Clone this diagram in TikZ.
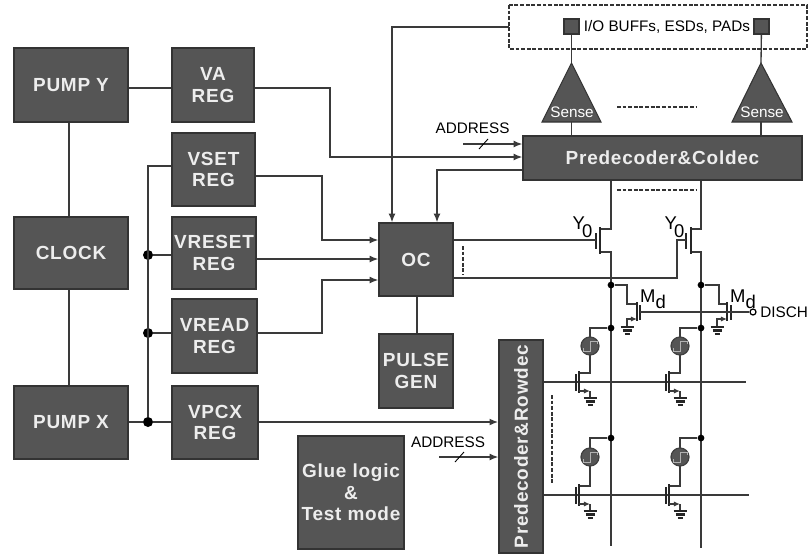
\documentclass[tikz,border=0pt]{standalone}
\usepackage{fontspec}
\usepackage{xcolor}
\usetikzlibrary{arrows.meta}
\setmainfont{Liberation Sans}
\newfontfamily\boxfont[LetterSpace=4]{Liberation Sans}
\definecolor{boxgray}{HTML}{555555}
\definecolor{wiregray}{HTML}{3A3A3A}
\tikzset{
  wire/.style={draw=wiregray, line width=0.75pt},
  arrowed/.style={wire, -{Latex[length=5pt,width=4pt]}},
  thinbar/.style={draw=black!85, line width=1.3pt},
  dashrow/.style={draw=black!80, line width=0.6pt, dash pattern=on 2.2pt off 1pt},
  jdot/.style={circle, fill=black, draw=none, minimum size=0.2cm, inner sep=0pt},
  smalldot/.style={jdot, minimum size=0.135cm},
  block/.style 2 args={draw=black!80, line width=0.8pt, fill=boxgray, text=white!93!black,
    font=\boxfont\bfseries\fontsize{10.8}{12.3}\selectfont, align=center, inner sep=0pt,
    minimum width=#1*0.02cm, minimum height=#2*0.02cm},
  sense/.style={draw=black!80, line width=0.6pt, fill=boxgray},
  label/.style={text=black, font=\fontsize{8.7}{10}\selectfont, inner sep=0pt},
  devlabel/.style={text=black, font=\fontsize{10.5}{12}\selectfont, inner sep=0pt},
  gnd/.pic={
    \draw[thinbar] (-6.5,0) -- (6.5,0);
    \draw[thinbar] (-4.5,3.4) -- (4.5,3.4);
    \draw[thinbar] (-2.5,6.8) -- (2.5,6.8);
  }
}
\begin{document}
\begin{tikzpicture}[x=0.02cm,y=-0.02cm]
\useasboundingbox (0,0) rectangle (808,555);

% Left column: pumps and clock
\node[block={114}{74}] (pumpy) at (71,85) {PUMP Y};
\node[block={114}{72}] (clock) at (71,253) {CLOCK};
\node[block={114}{73}] (pumpx) at (71,422.5) {PUMP X};

% Regulators
\node[block={82}{74}] (vareg) at (213,85) {VA\\REG};
\node[block={83}{73}] (vsetreg) at (213.5,169.5) {VSET\\REG};
\node[block={84}{72}] (vresetreg) at (214,253) {VRESET\\REG};
\node[block={85}{74}] (vreadreg) at (214.5,336) {VREAD\\REG};
\node[block={86}{73}] (vpcxreg) at (215,422.5) {VPCX\\REG};

% Middle blocks
\node[block={74}{73}] (oc) at (416,259.5) {OC};
\node[block={74}{74}] (pulsegen) at (416,371) {PULSE\\GEN};
\node[block={106}{113}] (glue) at (351,492.5) {Glue logic\\\&\\Test mode};

% Decoders
\node[block={279}{44}] (coldec) at (662.5,158) {Predecoder\&Coldec};
\node[block={213}{44}, rotate=90] (rowdec) at (521,446.5) {Predecoder\&Rowdec};

% I/O area
\draw[dashrow] (509,5) rectangle (807,49);
\coordinate (iobox) at (509,27);
\node[draw=black!80, line width=0.7pt, fill=boxgray, minimum size=0.3cm, inner sep=0pt] (padl) at (571.5,26.5) {};
\node[draw=black!80, line width=0.7pt, fill=boxgray, minimum size=0.3cm, inner sep=0pt] (padr) at (761.5,26.5) {};
\node[label] (iotext) at (667,27) {I/O BUFFs, ESDs, PADs};

% Sense amplifiers
\coordinate (sensel) at (571.5,63);
\coordinate (senser) at (761,63);
\draw[sense] (sensel) -- (601,122) -- (542,122) -- cycle;
\draw[sense] (senser) -- (792,122) -- (732,122) -- cycle;
\node[label, text=white] (sensetextl) at (572,112) {Sense};
\node[label, text=white] (sensetextr) at (762,112) {Sense};
\draw[wire] (padl) -- (sensel);
\draw[wire] (padr) -- (senser);
\draw[wire] (571.5,122) -- (coldec.north -| 571.5,0);
\draw[wire] (761,122) -- (coldec.north -| 761,0);
\draw[dashrow] (617,107) -- (697,107);

% Left side wiring
\draw[wire] (pumpy.south -| 69,0) -- (clock.north -| 69,0);
\draw[wire] (clock.south -| 69,0) -- (pumpx.north -| 69,0);
\draw[wire] (pumpy.east |- 0,88) -- (vareg.west |- 0,88);
\node[jdot] (dotreset) at (148,255) {};
\node[jdot] (dotread) at (148,333) {};
\node[jdot] (dotpcx) at (148,422) {};
\draw[wire] (vsetreg.west |- 0,166) -- (148,166) -- (dotpcx);
\draw[wire] (dotreset) -- (vresetreg.west |- dotreset);
\draw[wire] (dotread) -- (vreadreg.west |- dotread);
\draw[wire] (pumpx.east |- dotpcx) -- (dotpcx) -- (vpcxreg.west |- dotpcx);

% Regulators to OC, decoders
\draw[arrowed] (vareg.east |- 0,88) -- (330,88) -- (330,157) -- (coldec.west |- 0,157);
\draw[arrowed] (vsetreg.east |- 0,176) -- (322,176) -- (322,240) -- (oc.west |- 0,240);
\draw[arrowed] (vresetreg.east |- 0,259) -- (oc.west |- 0,259);
\draw[arrowed] (vreadreg.east |- 0,333) -- (322,333) -- (322,280) -- (oc.west |- 0,280);
\draw[arrowed, line width=1pt] (vpcxreg.east |- dotpcx) -- (rowdec.north |- dotpcx);
\draw[arrowed] (coldec.west |- 0,170) -- (437,170) -- (oc.north -| 437,0);
\draw[arrowed] (iobox) -- (392,27) -- (oc.north -| 392,0);
\draw[wire] (oc.south -| 417,0) -- (pulsegen.north -| 417,0);

% Address inputs
\node[label] (addrcol) at (472.5,128) {ADDRESS};
\coordinate (addrcolin) at (463,144);
\draw[arrowed] (addrcolin) -- (coldec.west |- addrcolin);
\draw[line width=0.5pt] (479,149) -- (488,139);
\node[label] (addrrow) at (448,442) {ADDRESS};
\coordinate (addrrowin) at (439,457);
\draw[arrowed] (addrrowin) -- (rowdec.north |- addrrowin);
\draw[line width=0.5pt] (455,462) -- (464,452);

% Bit lines
\coordinate (blone) at (611,546);
\coordinate (bltwo) at (701,548);
\draw[wire] (coldec.south -| blone) -- (611,229) -- (600,229);
\draw[wire] (coldec.south -| bltwo) -- (701,229) -- (691,229);
\draw[wire] (600,252) -- (611,252) -- (blone);
\draw[wire] (691,252) -- (701,252) -- (bltwo);
\draw[dashrow] (617,190) -- (697,190);

% Column select transistors
\draw[thinbar] (600,227) -- (600,254);
\draw[thinbar] (691,227) -- (691,254);
\draw[thinbar] (596,233) -- (596,249);
\draw[thinbar] (686,233) -- (686,249);
\draw[wire] (oc.east |- 0,240) -- (596,240);
\draw[wire] (oc.east |- 0,278) -- (677,278) -- (677,240) -- (686,240);
\draw[dashrow] (463,246) -- (463,275);
\node[devlabel] (yzerol) at (582.5,227) {Y\kern-1.5pt\raisebox{-4.5pt}{0}};
\node[devlabel] (yzeror) at (674.5,227) {Y\kern-1.5pt\raisebox{-4.5pt}{0}};

% Discharge transistors
\node[smalldot] (dotmdl) at (611,285) {};
\node[smalldot] (dotmdr) at (701,285) {};
\draw[wire] (dotmdl) -- (627,285) -- (627,304) -- (637,304);
\draw[wire] (dotmdr) -- (719,285) -- (719,304) -- (727,304);
\draw[thinbar] (637,302) -- (637,321);
\draw[thinbar] (727,302) -- (727,321);
\draw[thinbar] (640,305) -- (640,320);
\draw[thinbar] (731,305) -- (731,320);
\draw[wire, {Latex[length=3.5pt,width=3pt]}-] (637,319) -- (627,319) -- (627,327);
\draw[wire, {Latex[length=3.5pt,width=3pt]}-] (727,319) -- (717,319) -- (717,327);
\pic at (627,327) {gnd};
\pic at (717,327) {gnd};
\node[draw=black, fill=white, circle, line width=0.7pt, minimum size=0.12cm, inner sep=0pt] (dischpin) at (753,312) {};
\draw[wire] (640,312) -- (dischpin);
\node[label, anchor=west] (disch) at (760,312.5) {DISCH};
\node[devlabel] (mdl) at (653,299) {M\raisebox{-3.5pt}{d}};
\node[devlabel] (mdr) at (743,299) {M\raisebox{-3.5pt}{d}};

% Word lines
\draw[wire] (rowdec.south |- 0,382) -- (746,382);
\draw[wire] (rowdec.south |- 0,495) -- (749,495);
\draw[dashrow] (552,395) -- (552,483);

% Memory cells: bit line x / junction y / element y / word line y
\foreach \bx/\jy/\ey/\wy in {611/328/346/382, 701/328/346/382, 611/438/457/495, 701/438/457/495}{
  \node[smalldot] (dot\bx\jy) at (\bx,\jy) {};
  \draw[wire] (dot\bx\jy) -- (\bx-21,\jy) -- (\bx-21,\wy-9) -- (\bx-32,\wy-9);
  \node[circle, draw=black!75, line width=0.7pt, fill=boxgray, minimum size=0.36cm, inner sep=0pt] (cell\bx\jy) at (\bx-21,\ey) {};
  \draw[white!70!black, line width=0.5pt] (\bx-28,\ey+2) -- (\bx-28,\ey+5) -- (\bx-21,\ey+5) -- (\bx-21,\ey-5) -- (\bx-14,\ey-5) -- (\bx-14,\ey-2);
  \draw[thinbar] (\bx-32,\wy-11) -- (\bx-32,\wy+11);
  \draw[thinbar] (\bx-35,\wy-8) -- (\bx-35,\wy+9);
  \draw[wire, -{Latex[length=3.5pt,width=3pt]}] (\bx-32,\wy+9) -- (\bx-21,\wy+9);
  \draw[wire] (\bx-21,\wy+9) -- (\bx-21,\wy+16);
  \pic at (\bx-21,\wy+16) {gnd};
}
\end{tikzpicture}
\end{document}
